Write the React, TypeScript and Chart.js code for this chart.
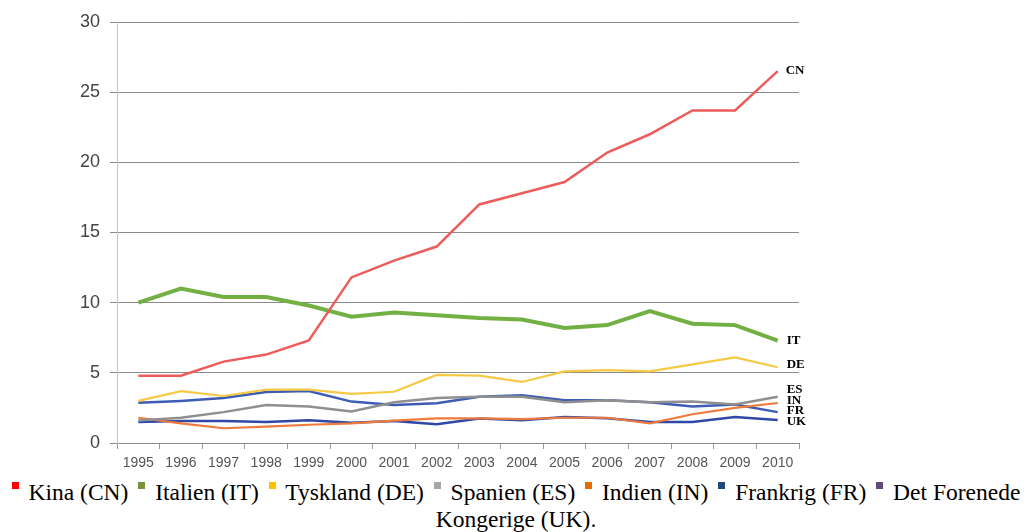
import React, { useEffect, useRef } from "react";
import { Chart, registerables } from "chart.js";

Chart.register(...registerables);

const years = ["1995", "1996", "1997", "1998", "1999", "2000", "2001", "2002", "2003", "2004", "2005", "2006", "2007", "2008", "2009", "2010"];

const cnValues = [4.8, 4.8, 5.8, 6.3, 7.3, 11.8, 13.0, 14.0, 17.0, 17.8, 18.6, 20.7, 22.0, 23.7, 23.7, 26.5];
const itValues = [10.0, 11.0, 10.4, 10.4, 9.8, 9.0, 9.3, 9.1, 8.9, 8.8, 8.2, 8.4, 9.4, 8.5, 8.4, 7.3];
const deValues = [3.0, 3.7, 3.35, 3.8, 3.8, 3.5, 3.65, 4.85, 4.8, 4.35, 5.1, 5.2, 5.1, 5.6, 6.1, 5.4];
const esValues = [1.6, 1.8, 2.2, 2.7, 2.6, 2.25, 2.9, 3.2, 3.3, 3.3, 2.9, 3.05, 2.9, 2.95, 2.75, 3.3];
const inValues = [1.8, 1.4, 1.05, 1.17, 1.3, 1.4, 1.6, 1.75, 1.75, 1.7, 1.8, 1.8, 1.4, 2.05, 2.5, 2.85];
const frValues = [2.86, 3.0, 3.2, 3.64, 3.7, 2.95, 2.7, 2.84, 3.3, 3.4, 3.05, 3.05, 2.9, 2.6, 2.75, 2.2];
const ukValues = [1.5, 1.57, 1.57, 1.5, 1.62, 1.45, 1.57, 1.33, 1.74, 1.62, 1.86, 1.76, 1.5, 1.5, 1.86, 1.64];

const seriesCodes = ["CN", "IT", "DE", "ES", "IN", "FR", "UK"];
const legendLabels = ["Kina (CN)", "Italien (IT)", "Tyskland (DE)", "Spanien (ES)", "Indien (IN)", "Frankrig (FR)", "Det Forenede Kongerige (UK)."];
const yTickValues = [0, 5, 10, 15, 20, 25, 30];

// where each end label sits on the value axis
const endLabelAt = [26.5, 7.3, 5.6, 3.8, 3.0, 2.3, 1.5];

const lineColors = ["#ee5b5b", "#72b043", "#f6c945", "#8f8f8f", "#ee7a3c", "#3d5db5", "#2f48a8"];
const lineWidths = [2.5, 4, 2.2, 2.5, 2.2, 2.5, 2.5];
const legendColors = ["#ff0000", "#77933c", "#ffc000", "#a6a6a6", "#e36c09", "#1f497d", "#604a7b"];

const allSeries = [cnValues, itValues, deValues, esValues, inValues, frValues, ukValues];

const SERIF = "'Liberation Serif', Tinos, 'Times New Roman', 'DejaVu Serif', serif";

const endLabelsPlugin = {
  id: "endLabels",
  afterDatasetsDraw(chart: any) {
    const ctx = chart.ctx;
    const yScale = chart.scales.y;
    ctx.save();
    ctx.font = "bold 13px " + SERIF;
    ctx.fillStyle = "#000";
    ctx.textBaseline = "middle";
    ctx.textAlign = "left";
    chart.data.datasets.forEach((ds: any, i: number) => {
      const meta = chart.getDatasetMeta(i);
      const last = meta.data[meta.data.length - 1];
      const dx = i === 0 ? 8 : 9;
      ctx.fillText(seriesCodes[i], last.x + dx, yScale.getPixelForValue(endLabelAt[i]));
    });
    ctx.restore();
  },
};

export default function App() {
  const canvasRef = useRef<HTMLCanvasElement | null>(null);

  useEffect(() => {
    document.documentElement.style.overflow = "hidden";
    const canvas = canvasRef.current;
    if (!canvas) return;
    const chart = new Chart(canvas, {
      type: "line",
      data: {
        labels: years,
        datasets: allSeries.map((vals, i) => ({
          label: seriesCodes[i],
          data: vals,
          borderColor: lineColors[i],
          backgroundColor: lineColors[i],
          borderWidth: lineWidths[i],
          pointRadius: 0,
          tension: 0,
          fill: false,
        })),
      },
      options: {
        animation: false,
        responsive: true,
        maintainAspectRatio: false,
        layout: { padding: { top: 14, right: 225, left: 0, bottom: 0 } },
        plugins: {
          legend: { display: false },
          tooltip: { enabled: false },
        },
        scales: {
          x: {
            type: "category",
            offset: true,
            afterFit: (scale: any) => {
              scale.height = 36;
              scale.paddingLeft = 0;
              scale.paddingRight = 0;
            },
            grid: {
              display: true,
              offset: true,
              drawOnChartArea: false,
              drawTicks: true,
              tickLength: 6,
              color: "#9a9a9a",
            },
            border: { display: true, color: "#8a8a8a", width: 1 },
            ticks: {
              autoSkip: false,
              maxRotation: 0,
              padding: 6,
              color: "#555",
              font: { family: "'Liberation Sans', Arial, sans-serif", size: 14 },
            },
          },
          y: {
            min: 0,
            max: 30,
            afterFit: (scale: any) => {
              scale.width = 109;
              scale.paddingTop = 0;
              scale.paddingBottom = 0;
            },
            afterBuildTicks: (scale: any) => {
              scale.ticks = yTickValues.map((v) => ({ value: v }));
            },
            grid: {
              color: "#8a8a8a",
              lineWidth: 1,
              tickLength: 7,
              drawTicks: true,
            },
            border: { display: true, color: "#c4c4c4", width: 1 },
            ticks: {
              padding: 10,
              color: "#444",
              font: { family: "'Liberation Sans', Arial, sans-serif", size: 18 },
            },
          },
        },
      },
      plugins: [endLabelsPlugin],
    });
    return () => {
      chart.destroy();
    };
  }, []);

  return (
    <div>
      <div style={{ position: "relative", width: 1016, height: 471 }}>
        <canvas ref={canvasRef} />
      </div>
      <div
        style={{
          marginLeft: -8,
          width: 1032,
          textAlign: "center",
          fontFamily: SERIF,
          fontSize: 23.5,
          lineHeight: "27px",
          color: "#000",
        }}
      >
        {legendLabels.map((label, i) => (
          <React.Fragment key={label}>
            <span
              style={{
                display: "inline-block",
                width: 7,
                height: 7,
                background: legendColors[i],
                verticalAlign: "top",
                position: "relative",
                top: 3,
                marginLeft: i === 0 ? 0 : 4,
                marginRight: 4,
              }}
            />{" "}
            {label}
            {i < legendLabels.length - 1 ? " " : ""}
          </React.Fragment>
        ))}
      </div>
    </div>
  );
}
